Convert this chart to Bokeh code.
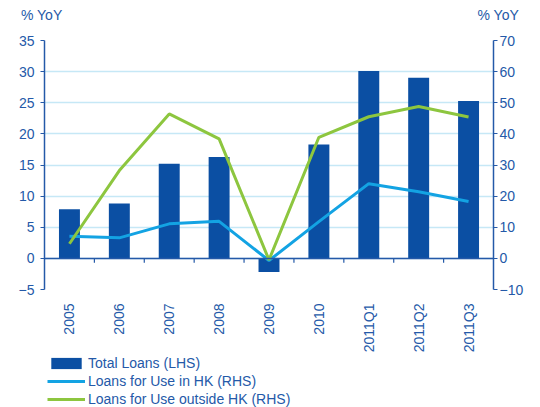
import math
from bokeh.plotting import figure
from bokeh.layouts import column
from bokeh.models import (Range1d, LinearAxis, FixedTicker, Span, Legend, LegendItem,
                          ColumnDataSource)
from bokeh.embed import file_html
from bokeh.resources import INLINE

categories = ["2005", "2006", "2007", "2008", "2009", "2010", "2011Q1", "2011Q2", "2011Q3"]
total_loans = [7.9, 8.8, 15.2, 16.3, -2.2, 18.3, 30.1, 29.0, 25.3]
loans_in_hk = [7.1, 6.6, 11.1, 11.9, -0.7, 11.8, 24.0, 21.4, 18.3]
loans_outside_hk = [4.7, 28.2, 46.4, 38.4, -0.5, 38.9, 45.5, 48.8, 45.4]
lhs_ticks = [-5, 0, 5, 10, 15, 20, 25, 30, 35]
rhs_ticks = [-10, 0, 10, 20, 30, 40, 50, 60, 70]
series_names = ["Total Loans (LHS)", "Loans for Use in HK (RHS)", "Loans for Use outside HK (RHS)"]
unit_label = "% YoY"

BAR = "#0b4fa3"
BLUE = "#13a3e3"
GREEN = "#8dc63f"
TXT = "#2459a8"
AX = "#2459a8"
GRID = "#c6e8f6"
FONT = "Liberation Sans"
W = 540
ML, MR = 44, 47

xs = list(range(len(categories)))
src = ColumnDataSource(dict(x=xs, total=total_loans, hk=loans_in_hk, out=loans_outside_hk))

# ---------- header strip: unit labels as single-tick axis labels ----------
top = figure(width=W, height=30, output_backend="svg", toolbar_location=None,
             x_range=Range1d(0, 1), y_range=Range1d(0, 30),
             x_axis_location=None, y_axis_location=None,
             min_border_left=ML, min_border_right=MR, min_border_top=0, min_border_bottom=0)
top.outline_line_color = None
top.grid.visible = False
for side, standoff in (("left", -18), ("right", -16)):
    ax = LinearAxis(ticker=FixedTicker(ticks=[16]), major_label_overrides={16: unit_label})
    ax.axis_line_color = None
    ax.major_tick_line_color = None
    ax.minor_tick_line_color = None
    ax.major_tick_out = 0
    ax.major_tick_in = 0
    ax.major_label_standoff = standoff
    ax.major_label_text_font = FONT
    ax.major_label_text_font_size = "14px"
    ax.major_label_text_color = TXT
    top.add_layout(ax, side)

# ---------- main chart ----------
p = figure(width=W, height=325, output_backend="svg", toolbar_location=None,
           x_range=Range1d(-0.5, len(categories) - 0.5),
           y_range=Range1d(lhs_ticks[0], lhs_ticks[-1]),
           min_border_left=ML, min_border_right=MR, min_border_top=10, min_border_bottom=65)
p.extra_y_ranges = {"rhs": Range1d(rhs_ticks[0], rhs_ticks[-1])}
p.outline_line_color = None

xa = p.xaxis[0]
xa.ticker = FixedTicker(ticks=xs)
xa.major_label_overrides = {i: c for i, c in enumerate(categories)}
xa.major_label_orientation = math.pi / 2
xa.axis_line_color = None
xa.major_tick_line_color = None
xa.minor_tick_line_color = None
xa.major_label_standoff = 8
xa.major_label_text_font = FONT
xa.major_label_text_font_size = "14px"
xa.major_label_text_color = TXT
p.xgrid.visible = False

ya = p.yaxis[0]
ya.ticker = FixedTicker(ticks=lhs_ticks)
ya.axis_line_color = AX
ya.axis_line_width = 1.5
ya.major_tick_line_color = AX
ya.major_tick_in = 0
ya.major_tick_out = 4
ya.minor_tick_line_color = None
ya.major_label_standoff = 6
ya.major_label_text_font = FONT
ya.major_label_text_font_size = "14px"
ya.major_label_text_color = TXT
p.ygrid.ticker = FixedTicker(ticks=lhs_ticks)
p.ygrid.grid_line_color = GRID
p.ygrid.grid_line_width = 1.5

ra = LinearAxis(y_range_name="rhs", ticker=FixedTicker(ticks=rhs_ticks))
ra.axis_line_color = AX
ra.axis_line_width = 1.5
ra.major_tick_line_color = AX
ra.major_tick_in = 0
ra.major_tick_out = 4
ra.minor_tick_line_color = None
ra.major_label_standoff = 2
ra.major_label_text_font = FONT
ra.major_label_text_font_size = "14px"
ra.major_label_text_color = TXT
p.add_layout(ra, "right")

p.add_layout(Span(location=0, dimension="width", line_color=AX, line_width=1.5))
bounds = [i + 0.5 for i in xs[:-1]]
p.segment(x0=bounds, x1=bounds, y0=[0] * len(bounds), y1=[-0.7] * len(bounds),
          line_color=AX, line_width=1.2)

p.vbar(x="x", top="total", bottom=0, width=0.42, source=src, fill_color=BAR, line_color=None)
p.line(x="x", y="hk", source=src, y_range_name="rhs", line_color=BLUE, line_width=3)
p.line(x="x", y="out", source=src, y_range_name="rhs", line_color=GREEN, line_width=3)

# ---------- legend strip ----------
lg = figure(width=W, height=52, output_backend="svg", toolbar_location=None,
            x_range=Range1d(-0.5, len(categories) - 0.5), y_range=Range1d(-100, -90),
            x_axis_location=None, y_axis_location=None,
            min_border_left=ML, min_border_right=MR, min_border_top=0, min_border_bottom=0)
lg.outline_line_color = None
lg.grid.visible = False
g1 = lg.vbar(x="x", top="total", bottom=0, width=0.42, source=src, fill_color=BAR,
             line_color=None, visible=False)
g2 = lg.line(x="x", y="hk", source=src, line_color=BLUE, line_width=3, visible=False)
g3 = lg.line(x="x", y="out", source=src, line_color=GREEN, line_width=3, visible=False)

legend = Legend(items=[LegendItem(label=series_names[0], renderers=[g1]),
                       LegendItem(label=series_names[1], renderers=[g2]),
                       LegendItem(label=series_names[2], renderers=[g3])],
                location=(3, 0), orientation="vertical")
legend.border_line_color = None
legend.background_fill_alpha = 0
legend.inactive_fill_alpha = 0
legend.padding = 0
legend.margin = 0
legend.spacing = 2
legend.glyph_width = 38
legend.glyph_height = 14
legend.label_height = 16
legend.label_standoff = 3
legend.label_text_font = FONT
legend.label_text_font_size = "14px"
legend.label_text_color = TXT
lg.add_layout(legend)

layout = column(top, p, lg, spacing=0)
open("out.html", "w").write(file_html(layout, INLINE))
